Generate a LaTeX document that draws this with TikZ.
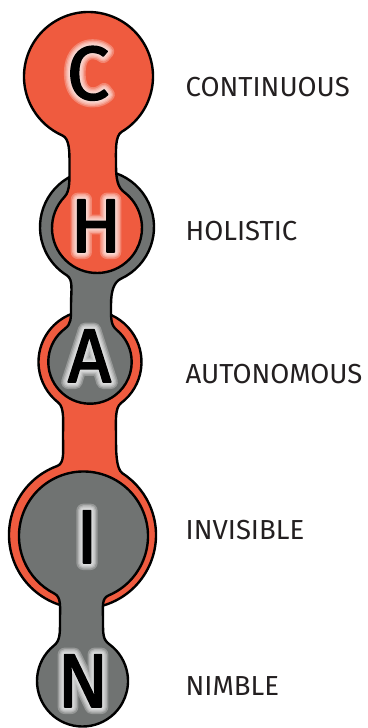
\documentclass[tikz,border=0pt]{standalone}
\usepackage{fontspec}
\setmainfont{Fira Sans}
\usetikzlibrary{calc}
\definecolor{chainorange}{HTML}{EF5B3F}
\definecolor{chaingray}{HTML}{707372}
\definecolor{labeltext}{HTML}{231F20}
\tikzset{
  linkline/.style={draw=black, line width=2.4pt, line join=round},
  bigletter/.style={inner sep=0pt, anchor=base, font=\fontsize{76}{76}\selectfont, text=black},
  sidelabel/.style={inner sep=0pt, anchor=base west, font=\fontsize{27.5}{28}\selectfont, text=labeltext},
}
\def\hh{8}
\def\kk{14}
\def\linkfill{chainorange}
% #1 top centre, #2 top radius, #3 left exit angle, #4 right exit angle,
% #5 bottom centre, #6 bottom radius, #7 left entry angle, #8 right entry angle,
% #9 prefix of neck coordinates (#9l, #9r)
\newcommand\linkpath[9]{%
  \draw[linkline, fill=\linkfill] ($(#5)+(#8:#6)$)
    .. controls ($(#5)+(#8:#6)+(#8+90:\hh)$) and ($(#9r)+(0,-\kk)$) .. (#9r)
    .. controls ($(#9r)+(0,\kk)$) and ($(#1)+(#4:#2)+(#4-90:\hh)$) .. ($(#1)+(#4:#2)$)
    arc[start angle=#4, end angle=#3+360, radius=#2]
    .. controls ($(#1)+(#3:#2)+(#3+90:\hh)$) and ($(#9l)+(0,\kk)$) .. (#9l)
    .. controls ($(#9l)+(0,-\kk)$) and ($(#5)+(#7:#6)+(#7-90:\hh)$) .. ($(#5)+(#7:#6)$)
    arc[start angle=#7, end angle=#8+360, radius=#6] -- cycle;
}
% glowing letter: white stroked copies of decreasing width under the black letter
% #1 name, #2 position (x,y) of baseline centre, #3 letter
\newcommand\glowletter[3]{%
  \foreach \ww [count=\ii] in {14,11,8.5,6,3.5}{
    \begin{scope}[draw opacity=0.26, fill opacity=0.26]
      \node[bigletter, text=white] (g#1\ii) at #2
        {\special{pdf:literal direct 2 Tr 1 1 1 RG 1 j \ww\space w}#3\special{pdf:literal direct 0 Tr}};
    \end{scope}
  }
  \node[bigletter] (#1) at #2
    {\special{pdf:literal direct 2 Tr 0 0 0 RG 1 j 1.6 w}#3\special{pdf:literal direct 0 Tr}};
}
\begin{document}
\begin{tikzpicture}[x=1pt,y=1pt]
\useasboundingbox (0,0) rectangle (367,-728);
% circle centres
\coordinate (cC)  at (88.5,-76.5);
\coordinate (cHo) at (97,-227);
\coordinate (cHi) at (97,-228);
\coordinate (cAo) at (90,-362);
\coordinate (cAi) at (90,-362);
\coordinate (cIo) at (82.5,-535);
\coordinate (cIi) at (83.5,-536);
\coordinate (cN)  at (82.5,-681);
% neck waists
\coordinate (m1l) at (69.5,-165);
\coordinate (m1r) at (116,-165);
\coordinate (m2l) at (71,-305);
\coordinate (m2r) at (111,-305);
\coordinate (m3l) at (63,-436);
\coordinate (m3r) at (116,-436);
\coordinate (m4l) at (60,-620);
\coordinate (m4r) at (103,-620);
% links, back to front
\def\linkfill{chainorange}
\linkpath{cAo}{51.5}{232}{307}{cIo}{73.5}{110}{57}{m3}
\def\linkfill{chaingray}
\linkpath{cHo}{57}{238}{295}{cAi}{41.7}{127}{50}{m2}
\linkpath{cIi}{64.5}{243}{293}{cN}{45.5}{129}{54}{m4}
\def\linkfill{chainorange}
\linkpath{cC}{64.5}{246}{301}{cHi}{45}{136}{53}{m1}
% letters
\glowletter{LC}{(88,-99.5)}{C}
\glowletter{LH}{(96,-252)}{H}
\glowletter{LA}{(89.5,-382)}{A}
\glowletter{LI}{(87,-563)}{I}
\glowletter{LN}{(83,-707)}{N}
% labels
\node[sidelabel] (tC) at (185.5,-96) {CONTINUOUS};
\node[sidelabel] (tH) at (185.5,-240) {HOLISTIC};
\node[sidelabel] (tA) at (185.5,-383) {AUTONOMOUS};
\node[sidelabel] (tI) at (185.5,-539) {INVISIBLE};
\node[sidelabel] (tN) at (185.5,-695) {NIMBLE};
\end{tikzpicture}
\end{document}
